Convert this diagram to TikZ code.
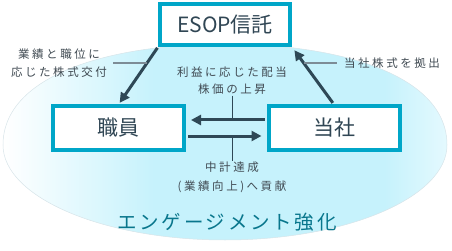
\documentclass[tikz,border=0pt]{standalone}
\usepackage{fontspec}
\setmainfont{Noto Sans CJK JP}
\newfontfamily\lbfont[LetterSpace=22]{Noto Sans CJK JP}
\newfontfamily\engfont[LetterSpace=14]{Noto Sans CJK JP}
\usetikzlibrary{arrows.meta,calc}
\definecolor{boxc}{RGB}{0,166,200}
\definecolor{arrc}{RGB}{46,72,86}
\definecolor{txtc}{RGB}{48,70,84}
\definecolor{lblc}{RGB}{64,74,82}
\definecolor{leadc}{RGB}{125,140,150}
\definecolor{engc}{RGB}{8,118,140}
\definecolor{cyanL}{RGB}{198,242,252}
\definecolor{cyanM}{RGB}{228,249,254}
\definecolor{edgec}{RGB}{215,228,233}
\pgfdeclarehorizontalshading{blob}{100bp}{color(0bp)=(white); color(25bp)=(white); color(42bp)=(cyanL); color(68bp)=(cyanL); color(75bp)=(cyanM); color(100bp)=(cyanM)}
\tikzset{
  mainbox/.style={draw=boxc, line width=4pt, fill=white, minimum width=131pt, minimum height=43pt, inner sep=0pt, text=txtc, font=\fontsize{21}{24}\selectfont},
  arr/.style={draw=arrc, line width=3pt, -{Triangle[length=10pt,width=10pt]}},
  lbl/.style={text=lblc, align=center, inner sep=1pt, font=\lbfont\fontsize{11.5}{18}\selectfont},
  leader/.style={draw=leadc, line width=1.4pt},
  vline/.style={draw=arrc, line width=0.8pt},
}
\begin{document}
\begin{tikzpicture}[x=1pt,y=-1pt]
\useasboundingbox (0,0) rectangle (452,251);
% background blob
\shade[shading=blob, draw=edgec, line width=0.5pt]
  (3,145) .. controls (3,75) and (110,44) .. (225,44)
  .. controls (340,44) and (447,75) .. (447,145)
  .. controls (447,197) and (347.5,240) .. (225,240)
  .. controls (102.5,240) and (3,197) .. (3,145) -- cycle;
% boxes
\node[mainbox, minimum width=130pt, minimum height=41pt] (esop) at (225,24.5) {ESOP信託};
\node[mainbox] (shk) at (118.5,128) {職員};
\node[mainbox] (tsh) at (334,128) {当社};
% arrows
\draw[arr, shorten <=1pt, shorten >=2pt] (esop.south west) -- (shk.north);
\draw[arr, shorten <=2pt, shorten >=4pt] (tsh.north) -- (esop.south east);
\draw[arr, shorten <=2pt, shorten >=5pt] ([yshift=8pt]tsh.west) -- ([yshift=8pt]shk.east);
\draw[arr, shorten <=2pt, shorten >=5pt] ([yshift=-8pt]shk.east) -- ([yshift=-8pt]tsh.west);
% labels
\node[lbl] (l1) at (59,63) {業績と職位に\\応じた株式交付};
\node[lbl] (l2) at (392,63) {当社株式を拠出};
\node[lbl, font=\lbfont\fontsize{11.5}{17}\selectfont] (l3) at (232,80.5) {利益に応じた配当\\株価の上昇};
\node[lbl, font=\lbfont\fontsize{11.5}{19}\selectfont] (l4) at (232,177.5) {中計達成\\(業績向上)へ貢献};
\node[text=engc, font=\engfont\fontsize{19.5}{22}\selectfont, inner sep=0pt] (eng) at (227,222) {エンゲージメント強化};
% leader lines
\coordinate (la) at ($(esop.south west)!0.29!(shk.north)$);
\coordinate (lb) at ($(tsh.north)!0.71!(esop.south east)$);
\draw[leader] ([xshift=5pt]l1.east) -- (l1.east -| la);
\draw[leader] ([xshift=-6pt]l2.west) -- (l2.west -| lb);
\coordinate (va) at ([yshift=8pt]shk.east);
\coordinate (vb) at ([yshift=-8pt]shk.east);
\draw[vline] (l3.south) -- (l3.south |- va);
\draw[vline] (l4.north |- vb) -- (l4.north);
\end{tikzpicture}
\end{document}
